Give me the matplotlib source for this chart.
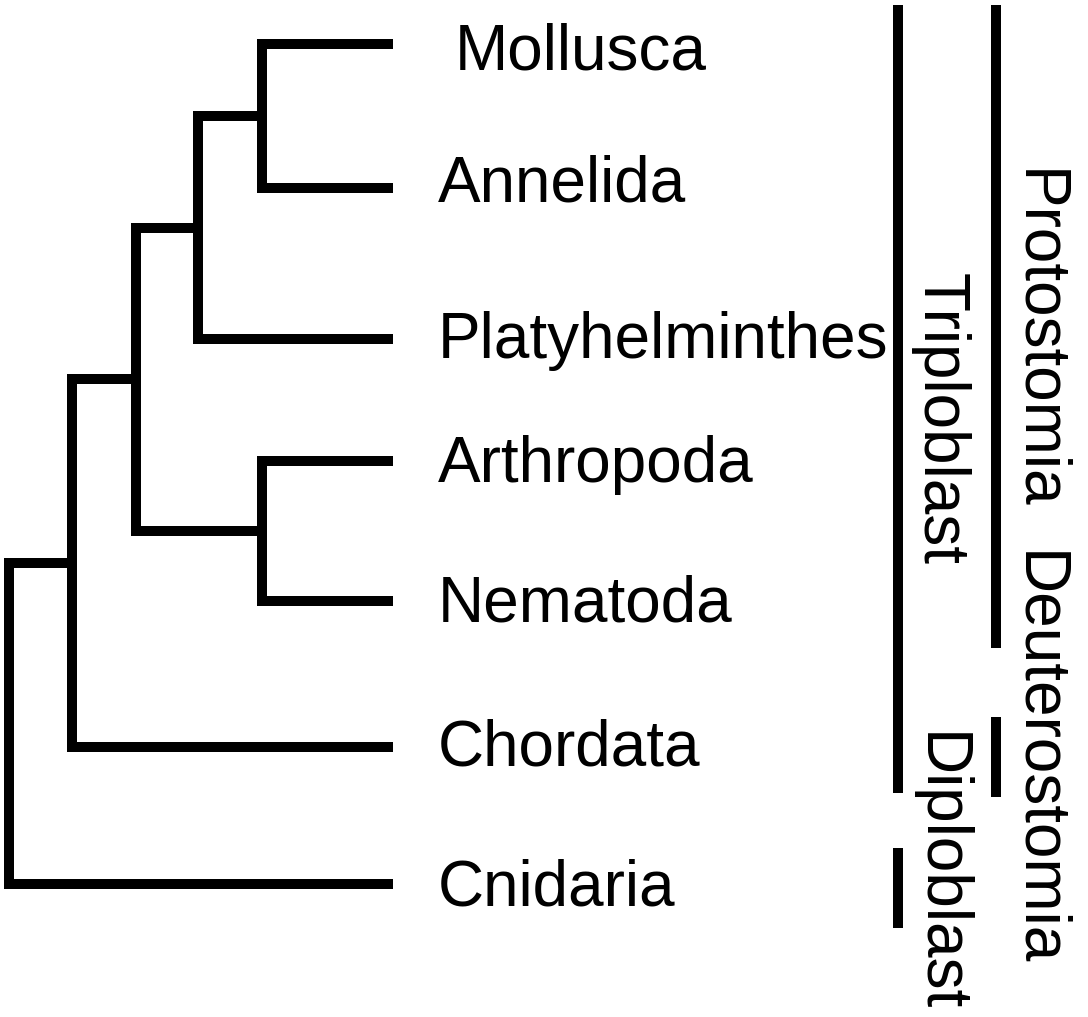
import matplotlib
matplotlib.use("Agg")
import matplotlib.pyplot as plt

# leaves of the tree (top to bottom), pixel-style coordinates (y grows downward)
taxa = ["Mollusca", "Annelida", "Platyhelminthes", "Arthropoda",
        "Nematoda", "Chordata", "Cnidaria"]
leaf_y = [44, 188, 339, 461, 601, 747, 884]
label_x = [455, 438, 438, 438, 438, 438, 438]
label_base = [70, 202, 358, 482, 622, 766, 905]
leaf_end = 393

# internal nodes: name -> (child a, child b, depth x)
nodes = {
    "MA": ("Mollusca", "Annelida", 262),
    "MAP": ("MA", "Platyhelminthes", 198),
    "AN": ("Arthropoda", "Nematoda", 262),
    "PRO": ("MAP", "AN", 136),
    "TRI": ("PRO", "Chordata", 72),
    "ROOT": ("TRI", "Cnidaria", 9),
}

# side bars for the groups
groups = ["Triploblast", "Diploblast", "Protostomia", "Deuterostomia"]
group_x = [898, 898, 996, 996]
group_top = [5, 848, 5, 717]
group_bottom = [793, 928, 648, 797]
group_text_x = [923, 922, 1020, 1020]
group_text_y = [273, 732, 169, 551]

LW = 7.2
FONT = "Liberation Sans"
FS = 46

fig = plt.figure(figsize=(10.88, 10.17), dpi=100)
ax = fig.add_axes([0, 0, 1, 1])
ax.set_xlim(0, 1088)
ax.set_ylim(1017, 0)
ax.axis("off")

pos = {name: (leaf_end, y) for name, y in zip(taxa, leaf_y)}


def place(name):
    """Return the (x, y) of a node, drawing its bracket on the way."""
    if name in pos:
        return pos[name]
    a, b, x = nodes[name]
    xa, ya = place(a)
    xb, yb = place(b)
    ax.plot([xa, x, x, xb], [ya, ya, yb, yb], color="black", lw=LW,
            solid_joinstyle="miter", solid_capstyle="butt")
    pos[name] = (x, (ya + yb) / 2)
    return pos[name]


place("ROOT")

for name, x, y in zip(taxa, label_x, label_base):
    ax.text(x, y, name, fontsize=FS, family=FONT, ha="left", va="baseline")

for name, x, y0, y1, tx, ty in zip(groups, group_x, group_top, group_bottom,
                                   group_text_x, group_text_y):
    ax.plot([x, x], [y0, y1], color="black", lw=LW, solid_capstyle="butt")
    ax.text(tx, ty, name, fontsize=FS, family=FONT, rotation=-90,
            rotation_mode="anchor", ha="left", va="baseline")

fig.savefig("out.png", dpi=100)
